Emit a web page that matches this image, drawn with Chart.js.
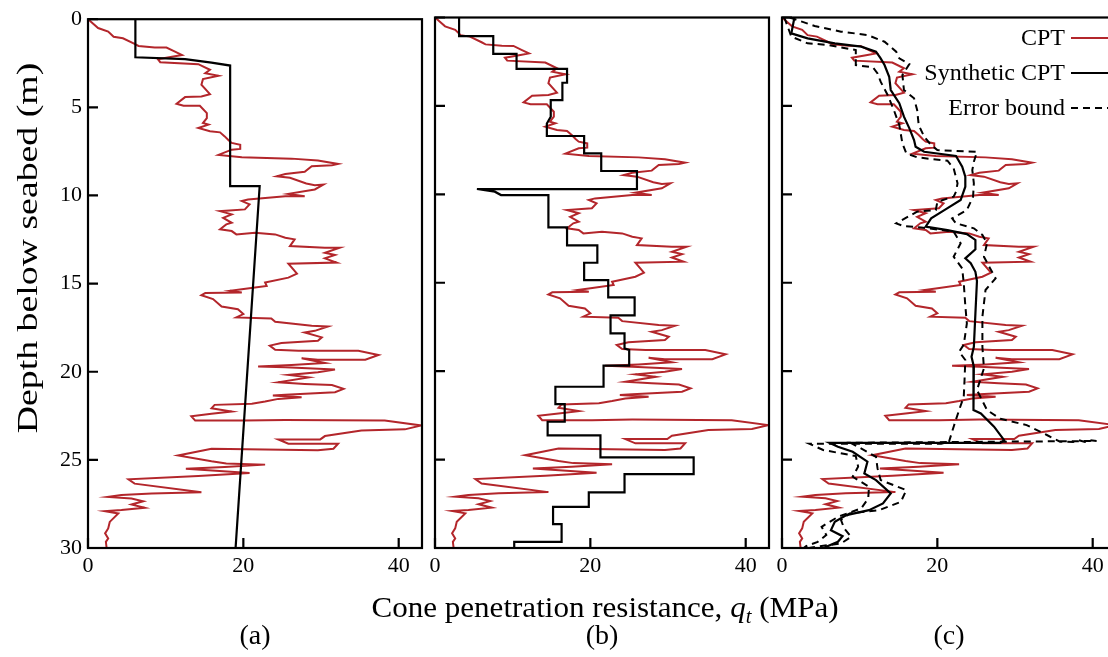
<!DOCTYPE html>
<html>
<head>
<meta charset="utf-8">
<script src="https://cdn.jsdelivr.net/npm/chart.js@4.4.1/dist/chart.umd.min.js"></script>
<style>
  html, body { margin: 0; padding: 0; background: #fff; overflow: hidden; width: 1108px; height: 657px; }
  #wrap { position: relative; width: 1108px; height: 657px; overflow: hidden; }
  canvas { position: absolute; left: 0; top: 0; }
</style>
</head>
<body>
<div id="wrap">
  <canvas id="panelA" width="1130" height="657"></canvas>
  <canvas id="panelB" width="1130" height="657"></canvas>
  <canvas id="panelC" width="1130" height="657"></canvas>
</div>
<script>
// ---- Measured CPT profile: cone resistance qt (MPa) vs depth (m) ----
const cptQ = [0,1.3,2.6,3.3,4.5,6.0,6.5,8.6,10.1,11.2,12.1,11.0,9.0,9.3,14.2,15.7,15.1,16.8,14.8,14.6,
  15.7,14.6,12.5,11.4,12.3,14.4,15.3,15.3,14.8,15.5,14.2,15.7,17.0,17.6,18.1,18.5,19.6,19.6,18.5,16.8,
  19.8,26.2,29.6,32.2,31.4,28.8,27.9,25.4,24.3,26.0,28.1,29.2,30.3,29.2,25.8,27.9,25.4,20.6,19.8,20.8,
  20.2,17.0,18.5,17.4,18.5,17.8,17.0,18.5,19.1,21.5,24.1,25.4,26.6,26.0,30.5,32.4,30.5,31.8,30.5,32.0,
  25.8,26.9,25.8,22.8,23.0,19.8,18.3,19.8,15.1,14.6,16.1,17.2,19.3,20.0,19.1,23.6,24.1,28.8,30.9,29.2,
  27.9,30.1,29.6,24.9,23.4,24.1,27.1,34.8,37.4,35.7,29.6,27.5,30.5,26.2,21.9,25.4,31.8,29.6,25.8,28.4,
  24.5,27.9,31.4,32.9,31.8,25.4,23.8,27.5,24.5,22.8,21.1,16.3,15.9,18.5,15.9,13.3,13.8,20.2,25.4,38.2,
  42.9,40.8,35.2,30.5,29.9,24.5,25.8,32.2,31.6,29.6,15.9,11.6,15.9,17.8,22.8,17.6,12.6,20.8,14.2,5.2,
  6.0,14.6,8.2,4.3,2.6,5.6,7.1,5.6,7.3,4.3,2.2,3.9,2.8,2.6,2.2,2.6,2.3,2.4];
const cptDepth = [0,0.5,0.7,1.0,1.08,1.4,1.52,1.6,1.61,1.84,2.03,2.12,2.27,2.44,2.55,2.87,3.06,3.21,3.4,3.72,
  4.25,4.38,4.42,4.8,4.91,4.91,5.33,5.61,5.89,5.98,6.17,6.36,6.42,6.65,6.87,7.02,7.12,7.36,7.4,7.7,
  7.83,7.91,8.02,8.21,8.29,8.34,8.66,8.78,8.91,9.0,9.32,9.42,9.38,9.66,9.91,10.04,10.04,10.23,10.32,10.51,
  10.79,10.89,11.07,11.27,11.55,11.64,11.92,12.02,12.21,12.11,12.21,12.4,12.49,12.87,12.96,12.96,13.25,13.38,13.57,13.81,
  13.87,14.43,14.66,14.94,15.13,15.32,15.41,15.51,15.54,15.66,15.88,16.3,16.45,16.73,16.92,16.98,17.17,17.39,17.43,17.68,
  17.77,18.05,18.24,18.37,18.52,18.75,18.81,18.81,19.05,19.32,19.32,19.24,19.5,19.62,19.7,19.75,19.88,20.03,20.18,20.32,
  20.6,20.69,20.75,20.97,21.16,21.31,21.35,21.45,21.54,21.69,21.82,21.88,22.07,22.26,22.39,22.52,22.77,22.77,22.74,22.77,
  23.05,23.27,23.33,23.65,23.84,23.84,24.08,24.08,24.37,24.46,24.37,24.75,25.08,25.2,25.27,25.4,25.5,25.75,25.92,26.1,
  26.35,26.84,26.91,27.0,27.1,27.19,27.35,27.53,27.72,27.85,27.91,28.04,28.52,28.89,29.17,29.46,29.65,30.0];

// ---- (a) trend line ----
const trendQ     = [6.1, 6.1, 12.5, 15.9, 18.3, 18.3, 22.1, 19.0];
const trendDepth = [0, 2.16, 2.27, 2.46, 2.63, 9.47, 9.47, 30];

// ---- (b) layered profile ----
const layerQ = [3.1,3.1,7.5,7.5,10.5,10.5,17.0,17.0,16.4,16.4,14.9,14.9,14.4,14.4,19.2,19.2,21.4,21.4,26.0,26.0,
  5.4,7.7,8.5,14.6,14.6,17.0,17.0,20.9,20.9,19.2,19.2,22.3,22.3,25.7,25.7,22.6,22.6,24.4,24.4,25.0,
  25.0,21.7,21.7,15.5,15.5,16.7,16.7,14.5,14.5,21.3,21.3,33.3,33.3,24.4,24.4,19.8,19.8,15.2,15.2,16.3,
  16.3,10.2,10.2];
const layerDepth = [0,1.05,1.05,2.06,2.06,2.91,2.91,3.69,3.69,4.67,4.67,5.61,5.99,6.7,6.7,7.68,7.68,8.68,8.68,9.7,
  9.7,9.85,10.04,10.04,11.87,11.87,12.89,12.89,13.87,13.87,14.85,14.85,15.83,15.83,16.85,16.85,17.86,17.86,18.71,18.8,
  19.69,19.69,20.88,20.88,21.86,21.86,22.86,22.86,23.63,23.63,24.88,24.88,25.82,25.82,26.86,26.86,27.67,27.67,28.65,28.65,
  29.65,29.65,30];

// ---- (c) synthetic CPT with error bounds ----
const synQ = [1.6,1.2,3.3,6.8,10.2,12.1,12.7,13.2,13.8,14.0,15.1,15.7,16.4,17.0,17.2,18.3,22.4,23.2,23.6,23.6,
  23.0,20.9,19.2,18.5,21.3,23.8,24.9,24.9,23.6,24.3,24.9,25.1,24.9,24.7,24.4,24.7,24.6,24.7,25.6,27.3,
  28.6,28.1,6.1,7.2,9.1,11.0,10.6,12.1,14.0,13.0,11.2,8.3,6.8,6.3,7.8,7.2,5.7,5.4];
const synDepth = [0,0.9,1.18,1.46,1.65,1.93,2.31,2.69,3.35,4.1,4.85,5.61,6.27,6.93,7.31,7.59,7.83,8.44,9.0,9.57,
  10.32,10.89,11.36,11.83,12.02,12.25,12.58,13.11,13.62,13.9,14.38,14.9,16.73,18.62,19.19,19.75,21.07,22.2,22.39,23.14,
  23.9,24.05,24.05,24.28,24.56,25.12,25.78,26.16,26.91,27.48,27.86,28.14,28.52,28.99,29.33,29.65,29.93,30];

const upperQ = [1.0,4.2,7.6,11.0,13.2,14.7,15.1,16.4,15.5,15.7,17.0,17.4,17.6,18.3,19.2,20.0,25.1,24.7,24.5,24.7,
  24.6,23.8,21.9,22.4,24.7,25.8,26.4,26.0,26.8,27.5,26.2,25.8,25.8,26.0,25.1,26.4,28.1,31.5,34.1,35.8,
  37.5,38.2,39.0,39.6,40.5,8.8,9.8,12.1,12.3,12.7,16.0,15.3,12.5,8.7,7.6,8.0,8.9,7.6,4.4,3.5];
const upperDepth = [0,0.48,0.8,0.99,1.37,1.93,2.31,2.63,3.25,4.1,4.57,5.23,6.08,6.74,7.21,7.5,7.59,8.16,8.63,9.38,
  10.13,10.89,11.36,11.64,11.92,12.3,12.77,13.53,14.19,14.75,15.41,16.92,18.62,19.84,21.07,22.2,22.69,23.05,23.61,23.99,
  24.0,23.9,24.0,23.9,23.95,24.05,24.28,24.84,25.5,26.16,26.73,27.39,27.86,28.04,28.42,28.89,29.37,29.74,29.93,30];

const lowerQ = [0.3,1.2,3.3,5.9,9.5,9.5,11.7,12.3,12.7,13.6,14.4,15.1,15.5,16.0,17.4,21.3,22.1,22.6,22.4,22.1,
  20.0,19.8,17.4,14.7,15.7,17.9,22.1,23.0,22.1,23.2,23.4,23.6,23.8,23.4,22.8,23.6,23.5,23.4,22.8,22.1,
  21.5,20.5,3.5,5.3,9.5,9.8,9.1,11.2,11.1,10.2,7.2,5.1,5.7,4.6,3.1,2.8];
const lowerDepth = [0,1.08,1.46,1.55,1.84,2.69,2.82,3.16,3.63,4.38,5.23,6.08,7.12,7.68,7.91,8.1,8.53,9.38,9.85,10.13,
  10.42,10.89,10.98,11.64,11.8,11.87,12.11,12.77,13.53,14.19,15.03,16.3,17.3,18.5,18.9,19.37,20.5,21.45,22.2,23.14,
  23.99,24.1,24.1,24.46,24.8,25.4,25.97,26.54,27.2,27.76,28.24,28.8,29.27,29.65,29.9,30];

// ---- Axis ticks and captions ----
const xTicks = [0, 20, 40];
const yTicks = [0, 5, 10, 15, 20, 25, 30];
const panelCaptions = ['(a)', '(b)', '(c)'];
const yTitle = 'Depth below seabed (m)';
const xTitleParts = ['Cone penetration resistance, ', 'q', 't', ' (MPa)'];

// ---- Styling / layout ----
const SERIF = '"Liberation Serif", "DejaVu Serif", serif';
const RED = '#b3262b';
const CW = 1130, CH = 657;
const PLOT_TOP = 17.5, PLOT_BOTTOM = 548, PLOT_W = 334;
const panelLeft = [88, 435, 782];

const pts = (q, d) => q.map((v, i) => ({ x: v, y: d[i] }));
const lineSet = (label, q, d, color, width, dash) => ({
  label, data: pts(q, d), showLine: true, fill: false,
  borderColor: color, backgroundColor: color, borderWidth: width,
  borderDash: dash || [], pointRadius: 0, tension: 0
});

// Box frame with inward tick marks
const frameTicks = {
  id: 'frameTicks',
  afterDatasetsDraw(chart) {
    const { ctx, chartArea: a, scales: { x, y } } = chart;
    ctx.save();
    ctx.strokeStyle = '#000';
    ctx.lineWidth = 2.2;
    ctx.beginPath();
    yTicks.forEach(v => { const p = y.getPixelForValue(v); ctx.moveTo(a.left, p); ctx.lineTo(a.left + 10, p); });
    xTicks.forEach(v => { const p = x.getPixelForValue(v); ctx.moveTo(p, a.bottom); ctx.lineTo(p, a.bottom - 10); });
    ctx.stroke();
    ctx.strokeRect(a.left, a.top, a.right - a.left, a.bottom - a.top);
    ctx.restore();
  }
};

// Panel caption under each plot
const caption = {
  id: 'caption',
  afterDraw(chart, args, opts) {
    const { ctx, chartArea: a } = chart;
    ctx.save();
    ctx.fillStyle = '#000';
    ctx.font = `28px ${SERIF}`;
    ctx.textAlign = 'center';
    ctx.textBaseline = 'middle';
    ctx.fillText(opts.text, (a.left + a.right) / 2, 637);
    ctx.restore();
  }
};

// Vertical depth title, drawn rotated and slightly stretched along its length
const yAxisTitle = {
  id: 'yAxisTitle',
  afterDraw(chart, args, opts) {
    if (!opts.show) return;
    const { ctx } = chart;
    ctx.save();
    ctx.fillStyle = '#000';
    ctx.font = `30px ${SERIF}`;
    ctx.textAlign = 'center';
    ctx.textBaseline = 'middle';
    ctx.translate(29, 248);
    ctx.rotate(-Math.PI / 2);
    ctx.scale(1.26, 1);
    ctx.fillText(yTitle, 0, 0);
    ctx.restore();
  }
};

// Shared x-axis title with italic q and subscript t
const xAxisTitle = {
  id: 'xAxisTitle',
  afterDraw(chart, args, opts) {
    if (!opts.show) return;
    const { ctx, chartArea: a } = chart;
    const fonts = [`30px ${SERIF}`, `italic 30px ${SERIF}`, `italic 20px ${SERIF}`, `30px ${SERIF}`];
    const shifts = [0, 0, 6, 0];
    const stretch = 1.035;
    ctx.save();
    ctx.fillStyle = '#000';
    ctx.textBaseline = 'alphabetic';
    ctx.textAlign = 'left';
    const widths = xTitleParts.map((t, i) => { ctx.font = fonts[i]; return ctx.measureText(t).width; });
    const total = widths.reduce((s, w) => s + w, 0) * stretch;
    ctx.translate((a.left + a.right) / 2 + 3 - total / 2, 617);
    ctx.scale(stretch, 1);
    let x = 0;
    xTitleParts.forEach((t, i) => {
      ctx.font = fonts[i];
      ctx.fillText(t, x, shifts[i]);
      x += widths[i];
    });
    ctx.restore();
  }
};

// Legend at the top right of panel (c): text, then line sample
const sideLegend = {
  id: 'sideLegend',
  afterDatasetsDraw(chart, args, opts) {
    if (!opts.show) return;
    const { ctx } = chart;
    const items = opts.order.map(i => chart.data.datasets[i]);
    ctx.save();
    ctx.font = `24px ${SERIF}`;
    ctx.textAlign = 'right';
    ctx.textBaseline = 'middle';
    items.forEach((ds, k) => {
      const y = 38 + k * 35;
      ctx.fillStyle = '#000';
      ctx.fillText(ds.label, 1065, y + 1);
      ctx.strokeStyle = ds.borderColor;
      ctx.lineWidth = ds.borderWidth;
      ctx.setLineDash(ds.borderDash || []);
      ctx.beginPath();
      ctx.moveTo(1071, y);
      ctx.lineTo(1112, y);
      ctx.stroke();
    });
    ctx.restore();
  }
};

function makePanel(id, idx, datasets, extra) {
  const left = panelLeft[idx];
  const withLabels = idx === 0;
  return new Chart(document.getElementById(id), {
    type: 'scatter',
    data: { datasets },
    options: {
      responsive: false,
      animation: false,
      events: [],
      layout: { padding: { left: withLabels ? 0 : left, right: CW - left - PLOT_W, top: PLOT_TOP, bottom: 0 } },
      plugins: {
        legend: { display: false },
        tooltip: { enabled: false },
        caption: { text: panelCaptions[idx] },
        yAxisTitle: { show: withLabels },
        xAxisTitle: { show: !!(extra && extra.title) },
        sideLegend: { show: !!(extra && extra.legend), order: extra && extra.legend ? extra.legend : [] }
      },
      scales: {
        x: {
          type: 'linear', position: 'bottom', min: 0, max: 43,
          afterBuildTicks: s => { s.ticks = xTicks.map(v => ({ value: v })); },
          grid: { display: false, drawTicks: false },
          border: { display: false },
          ticks: { color: '#000', font: { family: SERIF, size: 22 }, padding: 5, maxRotation: 0, autoSkip: false },
          afterFit: s => { s.height = CH - PLOT_BOTTOM; }
        },
        y: {
          type: 'linear', position: 'left', min: 0, max: 30, reverse: true,
          afterBuildTicks: s => { s.ticks = yTicks.map(v => ({ value: v })); },
          grid: { display: false, drawTicks: false },
          border: { display: false },
          ticks: { display: withLabels, color: '#000', font: { family: SERIF, size: 22 }, padding: 6 },
          afterFit: s => { s.width = withLabels ? left : 0; }
        }
      }
    },
    plugins: [frameTicks, caption, yAxisTitle, xAxisTitle, sideLegend]
  });
}

// (a) measured CPT with trend line
makePanel('panelA', 0, [
  lineSet('Trend', trendQ, trendDepth, '#000', 2.2),
  lineSet('CPT', cptQ, cptDepth, RED, 2)
]);

// (b) measured CPT with layered profile
makePanel('panelB', 1, [
  lineSet('Layered', layerQ, layerDepth, '#000', 2.2),
  lineSet('CPT', cptQ, cptDepth, RED, 2)
], { title: true });

// (c) measured CPT, synthetic CPT and its error bounds
makePanel('panelC', 2, [
  lineSet('Synthetic CPT', synQ, synDepth, '#000', 2.2),
  lineSet('Error bound', upperQ, upperDepth, '#000', 2, [7, 5]),
  lineSet('Error bound', lowerQ, lowerDepth, '#000', 2, [7, 5]),
  lineSet('CPT', cptQ, cptDepth, RED, 2)
], { legend: [3, 0, 1] });
</script>
</body>
</html>
